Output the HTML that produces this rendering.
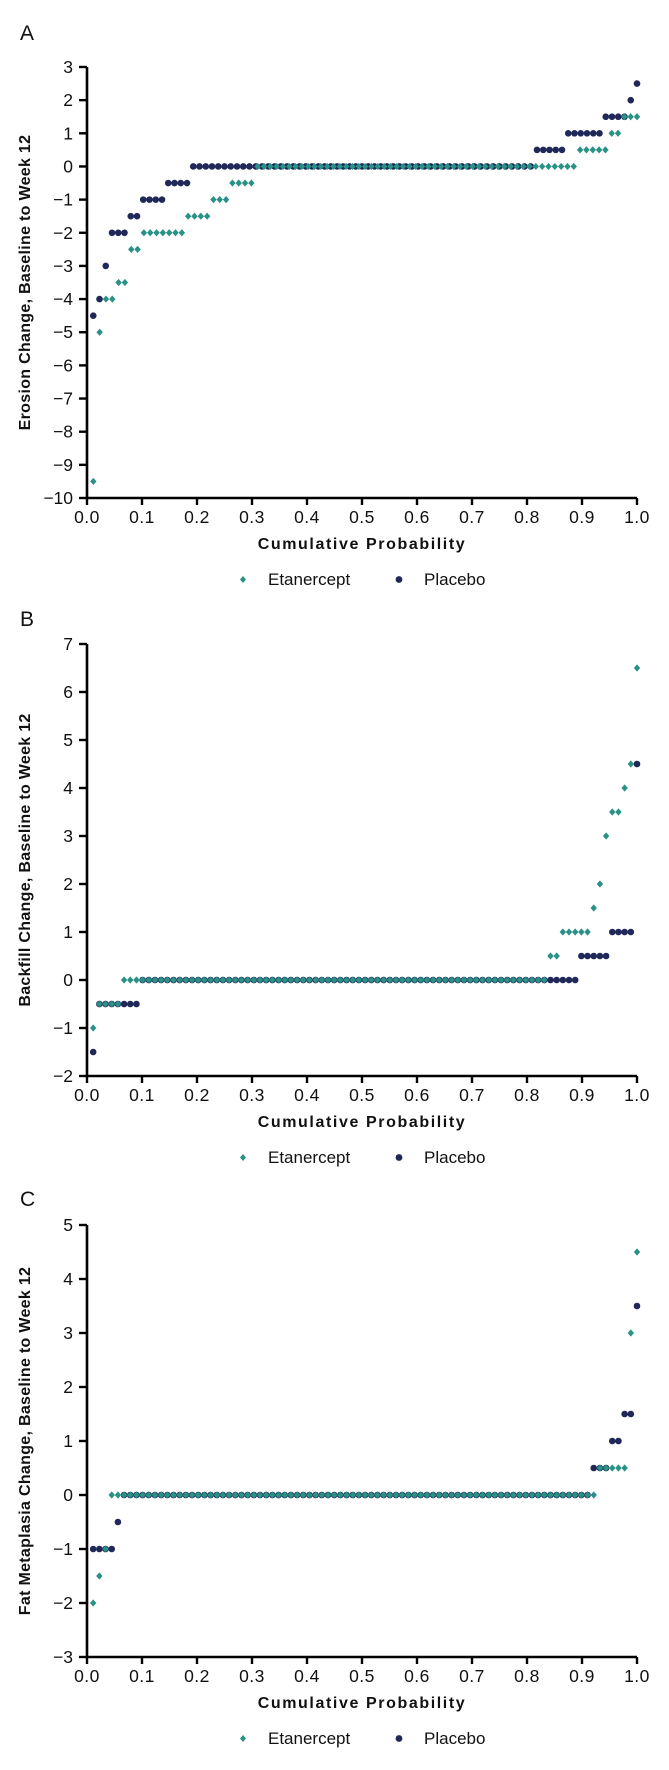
<!DOCTYPE html>
<html><head><meta charset="utf-8">
<style>
html,body{margin:0;padding:0;background:#fff;}
svg{display:block;font-family:"Liberation Sans",Arial,sans-serif;}
</style></head>
<body>
<svg id="fig" width="669" height="1770" viewBox="0 0 669 1770" xmlns="http://www.w3.org/2000/svg"></svg>
<script>
// Panel A: Erosion
const aEtaValues = [-9.5,-5,-4,-3.5,-2.5,-2,-1.5,-1,-0.5,0,0.5,1,1.5];
const aEtaCounts = [1,1,2,2,2,7,4,3,4,51,5,2,3];
const aPlaValues = [-4.5,-4,-3,-2,-1.5,-1,-0.5,0,0.5,1,1.5,2,2.5];
const aPlaCounts = [1,1,1,3,2,4,4,55,5,6,4,1,1];
const aTicks = [3,2,1,0,-1,-2,-3,-4,-5,-6,-7,-8,-9,-10];
// Panel B: Backfill
const bEtaValues = [-1,-0.5,0,0.5,1,1.5,2,3,3.5,4,4.5,6.5];
const bEtaCounts = [1,4,69,2,5,1,1,1,2,1,1,1];
const bPlaValues = [-1.5,-0.5,0,0.5,1,4.5];
const bPlaCounts = [1,7,71,5,4,1];
const bTicks = [7,6,5,4,3,2,1,0,-1,-2];
// Panel C: Fat metaplasia
const cEtaValues = [-2,-1.5,-1,0,0.5,3,4.5];
const cEtaCounts = [1,1,1,79,5,1,1];
const cPlaValues = [-1,-0.5,0,0.5,1,1.5,3.5];
const cPlaCounts = [4,1,76,3,2,2,1];
const cTicks = [5,4,3,2,1,0,-1,-2,-3];
const xTicks = ["0.0","0.1","0.2","0.3","0.4","0.5","0.6","0.7","0.8","0.9","1.0"];

const NS="http://www.w3.org/2000/svg";
const svg=document.getElementById('fig');
const TEAL="#2a9187", NAVY="#1f2858";
function mk(tag,attrs,parent){const e=document.createElementNS(NS,tag);for(const k in attrs)e.setAttribute(k,attrs[k]);(parent||svg).appendChild(e);return e;}
function expand(vals,counts){const out=[];vals.forEach((v,i)=>{for(let k=0;k<counts[i];k++)out.push(v);});return out;}

function panel(cfg){
  const g=mk('g',{});
  
  
  const x0=87,x1=637;
  const ymax=cfg.ticks[0],ymin=cfg.ticks[cfg.ticks.length-1];
  const sx=p=>x0+(x1-x0)*p;
  const sy=v=>cfg.yTop+(ymax-v)/(ymax-ymin)*(cfg.yBot-cfg.yTop);
  const lab=mk('text',{x:20,y:cfg.letterY,'font-size':21,fill:'#111'},g);lab.textContent=cfg.letter;
  
  
  const ax=mk('path',{d:`M${x0},${sy(ymax)} L${x0},${cfg.yBot} L${x1},${cfg.yBot}`,stroke:'#000','stroke-width':2.6,fill:'none'},g);
  
  
  cfg.ticks.forEach(t=>{
    const y=sy(t);
    mk('line',{x1:x0-8,x2:x0,y1:y,y2:y,stroke:'#000','stroke-width':2.4},g);
    const tx=mk('text',{x:x0-14,y:y+6,'font-size':17.5,'text-anchor':'end',fill:'#111'},g);
    tx.textContent=(t<0?'\u2212'+(-t):String(t));
    
    
  });
  xTicks.forEach((t,i)=>{
    const x=sx(i/10);
    mk('line',{x1:x,x2:x,y1:cfg.yBot,y2:cfg.yBot+7,stroke:'#000','stroke-width':2.4},g);
    const tx=mk('text',{x:x,y:cfg.yBot+25,'font-size':17.5,'text-anchor':'middle',fill:'#111','letter-spacing':'0.5'},g);
    tx.textContent=t;
    
    
  });
  const xt=mk('text',{x:362,y:cfg.yBot+51,'font-size':16,'font-weight':'bold','text-anchor':'middle','letter-spacing':'1.6',fill:'#111'},g);
  xt.textContent='Cumulative Probability';
  
  
  const ym=(sy(ymax)+cfg.yBot)/2;
  const yt=mk('text',{x:0,y:0,transform:`translate(30,${ym}) rotate(-90)`,'font-size':16,'font-weight':'bold','text-anchor':'middle','letter-spacing':'0.3',fill:'#111'},g);
  yt.textContent=cfg.ytitle;
  
  
  // series
  const pla=expand(cfg.plaV,cfg.plaC), eta=expand(cfg.etaV,cfg.etaC);
  pla.forEach((v,i)=>{
    const c=mk('circle',{cx:sx((i+1)/pla.length),cy:sy(v),r:3.3,fill:NAVY},g);
    
    
  });
  eta.forEach((v,i)=>{
    const x=sx((i+1)/eta.length),y=sy(v);
    const d=mk('path',{d:`M${x},${y-3.6} L${x+3.2},${y} L${x},${y+3.6} L${x-3.2},${y} Z`,fill:TEAL},g);
    
    
  });
  // legend
  const ly=cfg.yBot+87;
  const lg=mk('g',{},g);
  
  
  mk('path',{d:`M243,${ly-9} L246,${ly-5.5} L243,${ly-2} L240,${ly-5.5} Z`,fill:TEAL},lg);
  const l1=mk('text',{x:268,y:ly,'font-size':17,fill:'#111'},lg);l1.textContent='Etanercept';
  
  
  mk('circle',{cx:399,cy:ly-5.5,r:3.4,fill:NAVY},lg);
  const l2=mk('text',{x:424,y:ly,'font-size':17,fill:'#111'},lg);l2.textContent='Placebo';
  
  
}
panel({key:'erosion',letter:'A',letterY:40,yTop:67,yBot:498,ticks:aTicks,ytitle:'Erosion Change, Baseline to Week 12',etaV:aEtaValues,etaC:aEtaCounts,plaV:aPlaValues,plaC:aPlaCounts});
panel({key:'backfill',letter:'B',letterY:626,yTop:644,yBot:1076,ticks:bTicks,ytitle:'Backfill Change, Baseline to Week 12',etaV:bEtaValues,etaC:bEtaCounts,plaV:bPlaValues,plaC:bPlaCounts});
panel({key:'fat-metaplasia',letter:'C',letterY:1206,yTop:1225,yBot:1657,ticks:cTicks,ytitle:'Fat Metaplasia Change, Baseline to Week 12',etaV:cEtaValues,etaC:cEtaCounts,plaV:cPlaValues,plaC:cPlaCounts});
</script>
</body></html>
